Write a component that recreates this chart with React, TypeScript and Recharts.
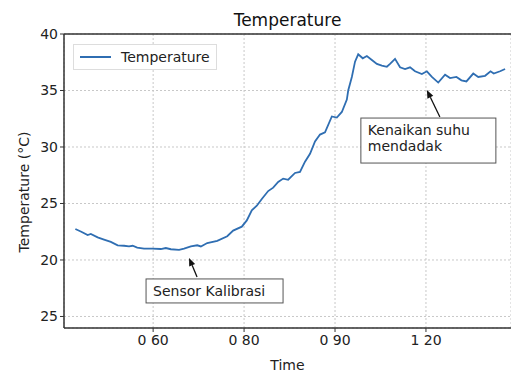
import React from "react";
import {
  LineChart,
  Line,
  XAxis,
  YAxis,
  CartesianGrid,
  Legend,
  ReferenceLine,
  ReferenceDot,
} from "recharts";

const times = [
  42.9, 44.2, 45.6, 46.3, 47.8, 49.2, 50.7, 52.2, 53.6, 54.7, 55.5, 56.5, 58.0,
  59.8, 61.7, 62.8, 63.9, 65.7, 66.8, 68.3, 69.7, 70.5, 71.9, 74.1, 76.3, 77.6,
  79.5, 80.6, 81.7, 82.8, 83.9, 85.3, 86.4, 87.5, 88.6, 89.7, 91.2, 92.3, 93.4,
  94.5, 95.6, 96.7, 97.8, 99.3, 100.4, 101.5, 102.6, 102.9, 103.7, 104.4, 105.1,
  106.1, 107.0, 108.1, 109.2, 110.3, 111.4, 112.1, 113.2, 114.3, 115.4, 116.5,
  117.6, 119.1, 120.2, 121.3, 122.7, 124.2, 125.3, 126.7, 127.8, 128.9, 130.4,
  131.5, 133.0, 134.2, 134.9, 136.3, 137.4,
];

const temps = [
  22.74, 22.5, 22.2, 22.3, 22.0, 21.8, 21.6, 21.3, 21.26, 21.2, 21.26, 21.1,
  21.0, 21.0, 20.97, 21.06, 20.95, 20.9, 21.0, 21.2, 21.3, 21.2, 21.5, 21.7,
  22.1, 22.6, 22.95, 23.5, 24.4, 24.8, 25.4, 26.1, 26.4, 26.9, 27.2, 27.1, 27.7,
  27.8, 28.7, 29.4, 30.5, 31.1, 31.3, 32.7, 32.6, 33.1, 34.2, 35.0, 36.2, 37.55,
  38.2, 37.85, 38.05, 37.7, 37.35, 37.2, 37.1, 37.35, 37.8, 37.05, 36.9, 37.05,
  36.7, 36.45, 36.7, 36.2, 35.7, 36.4, 36.1, 36.2, 35.9, 35.8, 36.5, 36.2, 36.3,
  36.7, 36.5, 36.7, 36.9,
];

const xTicks = [60, 80, 100, 120];
const xTickLabels = ["0 60", "0 80", "0 90", "1 20"];
const yTicks = [15, 20, 25, 30, 35, 40];
const yTickLabels = ["25", "20", "25", "30", "35", "40"];

const seriesName = "Temperature";
const titleText = "Temperature";
const xLabel = "Time";
const yLabel = "Temperature (°C)";

const annotations = [
  { x: 67.9, y: 20.18, lines: ["Sensor Kalibrasi"], dx: 8, dy: 19, bx: -43, by: 21, bw: 137, bh: 24 },
  { x: 120.2, y: 35.04, lines: ["Kenaikan suhu", "mendadak"], dx: 13, dy: 27, bx: -66, by: 28, bw: 135, bh: 45 },
];

const data = times.map((t, i) => ({ t, v: temps[i] }));

const FONT = "'DejaVu Sans', Verdana, sans-serif";
const LINE_COLOR = "#2f6eb2";

function makeAnnotationShape(a: (typeof annotations)[number]) {
  return (props: any) => {
    const cx = props.cx;
    const cy = props.cy;
    const tx = cx + a.dx;
    const ty = cy + a.dy;
    const len = Math.hypot(a.dx, a.dy);
    const ux = -a.dx / len;
    const uy = -a.dy / len;
    const hl = 8;
    const hw = 3.2;
    const bxp = cx - ux * hl;
    const byp = cy - uy * hl;
    const px = -uy;
    const py = ux;
    const head = `${cx},${cy} ${bxp + px * hw},${byp + py * hw} ${bxp - px * hw},${byp - py * hw}`;
    return (
      <g>
        <line x1={tx} y1={ty} x2={bxp} y2={byp} stroke="#111" strokeWidth={1.3} />
        <polygon points={head} fill="#111" />
        <rect
          x={cx + a.bx}
          y={cy + a.by}
          width={a.bw}
          height={a.bh}
          fill="#fff"
          stroke="#555"
          strokeWidth={1}
        />
        {a.lines.map((ln, i) => (
          <text
            key={i}
            x={cx + a.bx + 7}
            y={cy + a.by + 17 + i * 16}
            fontFamily={FONT}
            fontSize={14}
            fill="#222"
          >
            {ln}
          </text>
        ))}
      </g>
    );
  };
}

const LegendContent = () => (
  <div
    style={{
      border: "1px solid #ddd",
      background: "#fff",
      width: 142,
      height: 24,
      display: "flex",
      alignItems: "center",
      fontFamily: FONT,
      fontSize: 14,
      color: "#222",
      boxSizing: "content-box",
    }}
  >
    <svg width={42} height={24} style={{ display: "block" }}>
      <line x1={6} y1={12} x2={37} y2={12} stroke={LINE_COLOR} strokeWidth={2} />
    </svg>
    <span style={{ marginLeft: 5 }}>{seriesName}</span>
  </div>
);

export default function App() {
  return (
    <div style={{ position: "absolute", left: 0, top: 0, width: 511, height: 373, background: "#fff" }}>
      <div
        style={{
          position: "absolute",
          left: 64,
          width: 447,
          top: 8,
          textAlign: "center",
          fontFamily: FONT,
          fontSize: 17,
          color: "#111",
          lineHeight: "24px",
        }}
      >
        {titleText}
      </div>
      <LineChart
        width={511}
        height={373}
        data={data}
        margin={{ top: 34, right: 0, left: 0, bottom: 0 }}
      >
        <CartesianGrid stroke="#c8c8c8" strokeDasharray="2 2" />
        <XAxis
          dataKey="t"
          type="number"
          domain={[40.4, 138.7]}
          allowDataOverflow
          ticks={xTicks}
          tickFormatter={(v: number) => xTickLabels[xTicks.indexOf(v)] ?? ""}
          height={45}
          axisLine={{ stroke: "#333", strokeWidth: 1.5 }}
          tickLine={{ stroke: "#333" }}
          tickSize={4}
          tickMargin={3}
          tick={{ fontFamily: FONT, fontSize: 14, fill: "#222" }}
          label={{
            value: xLabel,
            position: "insideBottom",
            offset: 3,
            style: { fontFamily: FONT, fontSize: 14, fill: "#222" },
          }}
        />
        <YAxis
          type="number"
          domain={[13.98, 40]}
          allowDataOverflow
          ticks={yTicks}
          tickFormatter={(v: number) => yTickLabels[yTicks.indexOf(v)] ?? ""}
          width={64}
          axisLine={{ stroke: "#333", strokeWidth: 1.5 }}
          tickLine={{ stroke: "#333" }}
          tickSize={4}
          tickMargin={2}
          tick={{ fontFamily: FONT, fontSize: 14, fill: "#222" }}
          label={{
            content: (p: any) => {
              const vb = p.viewBox || { x: 0, y: 34, width: 64, height: 294 };
              const cx = vb.x + 24;
              const cy = vb.y + vb.height / 2 + 11;
              return (
                <text
                  x={cx}
                  y={cy}
                  transform={`rotate(-90 ${cx} ${cy})`}
                  textAnchor="middle"
                  dominantBaseline="central"
                  fontFamily={FONT}
                  fontSize={14}
                  fill="#222"
                >
                  {yLabel}
                </text>
              );
            },
          }}
        />
        <ReferenceLine y={40} stroke="#333" strokeWidth={1.5} ifOverflow="extendDomain" />
        <Legend
          layout="horizontal"
          verticalAlign="middle"
          align="center"
          content={<LegendContent />}
          wrapperStyle={{ position: "absolute", top: 44, left: 73, width: 144, height: 26 }}
        />
        <Line
          type="linear"
          dataKey="v"
          name={seriesName}
          stroke={LINE_COLOR}
          strokeWidth={1.8}
          dot={false}
          isAnimationActive={false}
        />
        {annotations.map((a, i) => (
          <ReferenceDot
            key={i}
            x={a.x}
            y={a.y}
            r={0}
            ifOverflow="visible"
            shape={makeAnnotationShape(a)}
          />
        ))}
      </LineChart>
    </div>
  );
}
